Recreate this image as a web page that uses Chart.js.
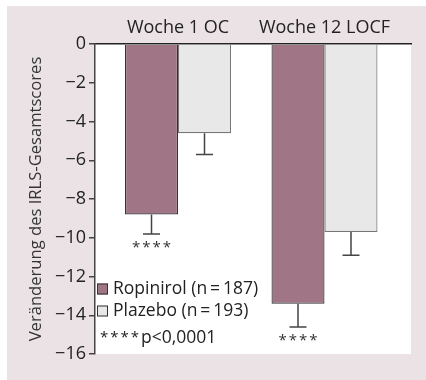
<!DOCTYPE html>
<html><head><meta charset="utf-8">
<script src="https://cdn.jsdelivr.net/npm/chart.js@4/dist/chart.umd.min.js"></script>
<style>html,body{margin:0;padding:0;background:#fff;}#wrap{width:426px;height:380px;position:relative;}</style>
</head><body><div id="wrap"><canvas id="c" width="426" height="380"></canvas></div>
<script>
const categories = ['Woche 1 OC', 'Woche 12 LOCF'];
const seriesNames = ['Ropinirol (n\u2009=\u2009187)', 'Plazebo (n\u2009=\u2009193)'];
const ropinirol = [-8.8, -13.4];
const ropinirolErr = [1.0, 1.2];
const plazebo = [-4.6, -9.7];
const plazeboErr = [1.1, 1.2];
const significance = ['****', '****'];
const yTickValues = [0, -2, -4, -6, -8, -10, -12, -14, -16];
const yTitle = 'Veränderung des IRLS-Gesamtscores';
const footnoteStars = '****';
const footnoteText = 'p<0,0001';

const FONT = "'Open Sans', 'Noto Sans', sans-serif";
const errs = [ropinirolErr, plazeboErr];

const framePlugin = {
  id: 'frame',
  beforeDraw(chart) {
    const {ctx, chartArea: a} = chart;
    ctx.save();
    ctx.fillStyle = '#ebe2e6';
    ctx.fillRect(7, 6, chart.width - 7, chart.height - 6);
    ctx.fillStyle = '#ffffff';
    ctx.fillRect(a.left, a.top, a.right - a.left, a.bottom - a.top);
    ctx.restore();
  }
};

const errPlugin = {
  id: 'errs',
  afterDatasetsDraw(chart) {
    const {ctx} = chart;
    const y = chart.scales.y;
    ctx.save();
    chart.data.datasets.forEach((ds, di) => {
      const meta = chart.getDatasetMeta(di);
      meta.data.forEach((bar, i) => {
        const v = ds.data[i].y;
        const e = errs[di][i];
        const y0 = y.getPixelForValue(v);
        const y1 = y.getPixelForValue(v - e);
        ctx.strokeStyle = '#444';
        ctx.lineWidth = 1.5;
        ctx.beginPath();
        ctx.moveTo(bar.x, y0); ctx.lineTo(bar.x, y1);
        ctx.moveTo(bar.x - 8.5, y1); ctx.lineTo(bar.x + 8.5, y1);
        ctx.stroke();
        if (di === 0) {
          ctx.fillStyle = '#333';
          ctx.font = '15px ' + FONT;
          ctx.textAlign = 'center';
          ctx.textBaseline = 'top';
          ctx.letterSpacing = '2px';
          ctx.fillText(significance[i], bar.x + 1, y1 + 6);
          ctx.letterSpacing = '0px';
        }
      });
    });
    ctx.restore();
  }
};

const legendPlugin = {
  id: 'customLegend',
  afterDraw(chart) {
    const {ctx, chartArea: a} = chart;
    ctx.save();
    ctx.font = '17.5px ' + FONT;
    ctx.textBaseline = 'middle';
    ctx.textAlign = 'left';
    const rows = [a.bottom - 65, a.bottom - 43];
    chart.data.datasets.forEach((ds, di) => {
      const cy = rows[di];
      ctx.fillStyle = ds.backgroundColor;
      ctx.fillRect(a.left + 2, cy - 5.5, 11, 11);
      ctx.strokeStyle = '#333';
      ctx.lineWidth = 1;
      ctx.strokeRect(a.left + 2.5, cy - 5, 10, 10);
      ctx.fillStyle = '#222';
      ctx.fillText(ds.label, a.left + 18, cy);
    });
    ctx.fillStyle = '#222';
    ctx.font = '15px ' + FONT;
    ctx.letterSpacing = '2px';
    ctx.fillText(footnoteStars, a.left + 5, a.bottom - 16);
    const w = ctx.measureText(footnoteStars).width;
    ctx.letterSpacing = '0px';
    ctx.font = '17.5px ' + FONT;
    ctx.fillText(footnoteText, a.left + 5 + w, a.bottom - 16);
    ctx.restore();
  }
};

new Chart(document.getElementById('c'), {
  type: 'bar',
  data: {
    datasets: [
      { label: seriesNames[0], data: ropinirol.map((v, i) => ({x: i + 1, y: v})),
        backgroundColor: '#a07686', borderColor: '#333', borderWidth: 1.2 },
      { label: seriesNames[1], data: plazebo.map((v, i) => ({x: i + 1, y: v})),
        backgroundColor: '#e8e8e8', borderColor: '#777', borderWidth: 1.2 }
    ]
  },
  options: {
    responsive: false,
    animation: false,
    devicePixelRatio: 1,
    categoryPercentage: 0.7235,
    barPercentage: 1,
    layout: { padding: { left: 0, right: 15, top: 0, bottom: 26 } },
    plugins: { legend: { display: false }, tooltip: { enabled: false } },
    scales: {
      x: {
        type: 'linear', position: 'top', offset: false, bounds: 'data',
        min: 0.4334, max: 2.5904,
        afterBuildTicks: s => { s.ticks = categories.map((c, i) => ({value: i + 1})); },
        afterFit: s => { s.height = 44; },
        ticks: { callback: v => categories[v - 1] || '', color: '#222', font: {family: FONT, size: 18}, padding: 5, maxRotation: 0, autoSkip: false },
        grid: { display: false, drawTicks: false },
        border: { display: true, color: '#222', width: 1.5 }
      },
      y: {
        min: -16, max: 0,
        afterBuildTicks: s => { s.ticks = yTickValues.map(v => ({value: v})); },
        afterFit: s => { s.width = 95; },
        ticks: { callback: v => v === 0 ? '0' : '\u2212' + Math.abs(v), color: '#222', font: {family: FONT, size: 18}, padding: 3 },
        grid: { drawOnChartArea: false, drawTicks: true, tickLength: 6, color: '#444', lineWidth: 1.5 },
        border: { display: true, color: '#444', width: 1.5 },
        title: { display: true, text: yTitle, color: '#333', font: {family: FONT, size: 16.6}, padding: {top: 26, bottom: 0} }
      }
    }
  },
  plugins: [framePlugin, errPlugin, legendPlugin]
});
</script></body></html>
